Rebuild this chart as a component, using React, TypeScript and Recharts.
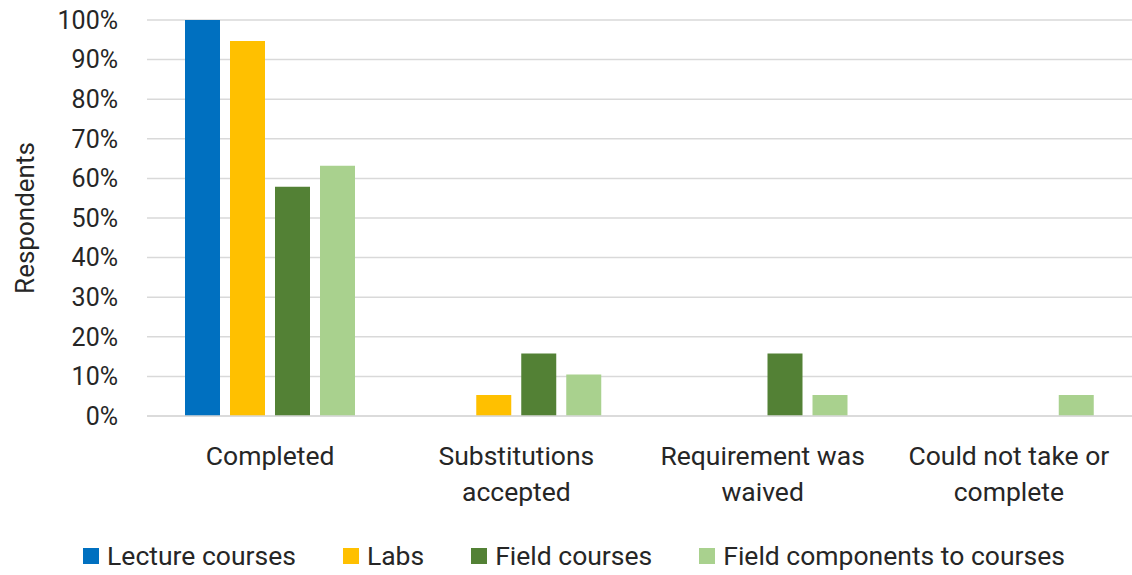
import React from 'react';
import { BarChart, Bar, XAxis, YAxis, CartesianGrid, Label } from 'recharts';

const categories = ['Completed', 'Substitutions accepted', 'Requirement was waived', 'Could not take or complete'];
const tickLines: Record<string, string[]> = {
  'Completed': ['Completed'],
  'Substitutions accepted': ['Substitutions', 'accepted'],
  'Requirement was waived': ['Requirement was', 'waived'],
  'Could not take or complete': ['Could not take or', 'complete'],
};
const lectureCourses = [100, 0, 0, 0];
const labs = [94.7, 5.3, 0, 0];
const fieldCourses = [57.9, 15.8, 15.8, 0];
const fieldComponents = [63.2, 10.5, 5.3, 5.3];
const yTicks = [0, 10, 20, 30, 40, 50, 60, 70, 80, 90, 100];

const series = [
  { key: 'lecture', name: 'Lecture courses', color: '#0070C0' },
  { key: 'labs', name: 'Labs', color: '#FFC000' },
  { key: 'field', name: 'Field courses', color: '#538135' },
  { key: 'components', name: 'Field components to courses', color: '#A9D18E' },
];

const data = categories.map((c, i) => ({
  category: c,
  lecture: lectureCourses[i],
  labs: labs[i],
  field: fieldCourses[i],
  components: fieldComponents[i],
}));

const FONT = '"Roboto", sans-serif';

const CategoryTick = (props: any) => {
  const { x, y, payload } = props;
  const lines = tickLines[payload.value] || [payload.value];
  return (
    <g transform={`translate(${x},${y})`}>
      {lines.map((l, i) => (
        <text key={i} x={0} y={41 + i * 36} textAnchor="middle" fill="#262626" fontSize={26.5} fontFamily={FONT}>
          {l}
        </text>
      ))}
    </g>
  );
};

export default function App() {
  return (
    <div style={{ position: 'absolute', left: 0, top: 0, width: 1132, height: 575, background: '#fff', fontFamily: FONT }}>
      <BarChart
        width={1132}
        height={575}
        data={data}
        margin={{ top: 20, right: 0, bottom: 79, left: 0 }}
        barSize={35}
        barGap={10}
      >
        <CartesianGrid vertical={false} stroke="#d9d9d9" strokeWidth={1.5} />
        <XAxis
          dataKey="category"
          tick={<CategoryTick />}
          tickLine={false}
          axisLine={{ stroke: '#d9d9d9', strokeWidth: 1.5 }}
          interval={0}
          height={80}
        />
        <YAxis
          domain={[0, 100]}
          ticks={yTicks}
          tickFormatter={(v) => `${v}%`}
          tickLine={false}
          axisLine={false}
          width={147}
          tickMargin={23}
          tick={{ fill: '#262626', fontSize: 25, fontFamily: FONT }}
        >
          <Label
            value="Respondents"
            angle={-90}
            position="insideLeft"
            offset={25}
            style={{ textAnchor: 'middle', fill: '#262626', fontSize: 26, fontFamily: FONT }}
          />
        </YAxis>
        {series.map((s) => (
          <Bar key={s.key} dataKey={s.key} name={s.name} fill={s.color} isAnimationActive={false} />
        ))}
      </BarChart>
      <div
        style={{
          position: 'absolute',
          left: 8,
          top: 538,
          width: 1132,
          display: 'flex',
          justifyContent: 'center',
          gap: 47,
          fontSize: 26.5,
          color: '#262626',
          lineHeight: '36px',
        }}
      >
        {series.map((s) => (
          <div key={s.key} style={{ display: 'flex', alignItems: 'center' }}>
            <span style={{ display: 'inline-block', width: 16, height: 16, background: s.color, marginRight: 8 }} />
            <span>{s.name}</span>
          </div>
        ))}
      </div>
    </div>
  );
}
